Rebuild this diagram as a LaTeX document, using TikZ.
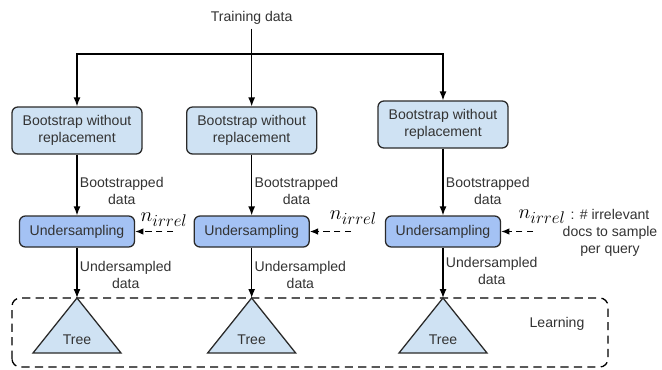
\documentclass[tikz,border=0pt]{standalone}
\usepackage{amsmath}
\usepackage{fontspec}
\setmainfont{Liberation Sans}
\usetikzlibrary{arrows.meta,positioning,calc}

\definecolor{bootblue}{HTML}{CFE2F3}
\definecolor{undblue}{HTML}{A4C2F4}
\definecolor{edgegray}{HTML}{2A2A2A}
\definecolor{textgray}{HTML}{333333}

\tikzset{
	bootbox/.style = {draw=edgegray, fill=bootblue, rounded corners=5pt, line width=1.1pt, minimum width=3.9cm, minimum height=1.41cm, align=center, inner sep=0pt},
	undbox/.style = {draw=edgegray, fill=undblue, rounded corners=5pt, line width=1.1pt, minimum width=3.45cm, minimum height=0.93cm, inner sep=0pt},
	flow/.style = {line width=1.1pt, -{Latex[length=2.7mm, width=2.1mm]}},
	irrelflow/.style = {line width=1.1pt, dash pattern=on 5.5pt off 3.5pt, -{Latex[length=2.5mm, width=2mm]}},
	edgelbl/.style = {right, align=center, inner xsep=2pt},
	treeshape/.style = {draw=edgegray, fill=bootblue, line width=1.1pt},
	nirrel/.style = {font=\fontsize{19}{22}\selectfont, text=black}
}

\begin{document}
\begin{tikzpicture}[font=\fontsize{12}{14.5}\selectfont, text=textgray]
		\useasboundingbox (0,0) rectangle (19.86,11.07);
		\node [] (train) at (7.55,10.53) {Training data};
		\coordinate (split) at (7.55,9.45);
		% sampling without replacement
		\node [bootbox] (boot1) at (2.31,7.155) {Bootstrap without\\replacement};
		\node [bootbox] (boot2) at (7.55,7.155) {Bootstrap without\\replacement};
		\node [bootbox] (boot3) at (13.29,7.335) {Bootstrap without\\replacement};
		\node [undbox] (und1) at (2.31,4.125) {Undersampling};
		\node [undbox] (und2) at (7.55,4.125) {Undersampling};
		\node [undbox] (und3) at (13.29,4.125) {Undersampling};
		% learning stage
		\draw [line width=1.1pt, dash pattern=on 7pt off 4.5pt, rounded corners=7pt] (0.36,0.06) rectangle (18.24,2.13);
		\node [] (learn) at (16.71,1.35) {Learning};
		\coordinate (t1) at (2.31,2.13);
		\coordinate (t2) at (7.55,2.13);
		\coordinate (t3) at (13.29,2.13);
		\draw [treeshape] (t1) -- ++(-1.32,-1.65) -- ++(2.64,0) -- cycle;
		\draw [treeshape] (t2) -- ++(-1.32,-1.65) -- ++(2.64,0) -- cycle;
		\draw [treeshape] (t3) -- ++(-1.32,-1.65) -- ++(2.64,0) -- cycle;
		\node [] (tree1) at (2.31,0.87) {Tree};
		\node [] (tree2) at (7.55,0.87) {Tree};
		\node [] (tree3) at (13.29,0.87) {Tree};
		% data flow
		\draw [flow] (train) -- (split) -- (boot2);
		\draw [flow] (split) -| (boot1);
		\draw [flow] (split) -| (boot3);
		\draw [flow] (boot1) -- node [edgelbl, pos=0.6] {Bootstrapped\\data} (und1);
		\draw [flow] (boot2) -- node [edgelbl, pos=0.6] {Bootstrapped\\data} (und2);
		\draw [flow] (boot3) -- node [edgelbl, pos=0.63] {Bootstrapped\\data} (und3);
		\draw [flow] (und1) -- node [edgelbl, pos=0.55] {Undersampled\\data} (t1);
		\draw [flow] (und2) -- node [edgelbl, pos=0.55] {Undersampled\\data} (t2);
		\draw [flow] (und3) -- node [edgelbl, pos=0.46] {Undersampled\\data} (t3);
		% number of irrelevant docs
		\node [nirrel] (n1) at (4.92,4.47) {$n_{irrel}$};
		\node [nirrel] (n2) at (10.6,4.53) {$n_{irrel}$};
		\node [nirrel] (n3) at (16.26,4.56) {$n_{irrel}$};
		\node [align=center] (note) at (18.3,4.08) {: \# irrelevant\\docs to sample\\per query};
		\coordinate (d1) at (5.19,4.125);
		\coordinate (d2) at (10.53,4.125);
		\coordinate (d3) at (15.99,4.125);
		\draw [irrelflow] (d1) -- (und1);
		\draw [irrelflow] (d2) -- (und2);
		\draw [irrelflow] (d3) -- (und3);
\end{tikzpicture}
\end{document}
